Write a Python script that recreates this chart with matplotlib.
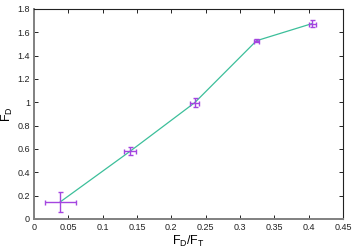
import matplotlib
matplotlib.use("Agg")
import matplotlib.pyplot as plt
from matplotlib.ticker import FixedLocator, FixedFormatter

plt.rcParams['font.family'] = ['Liberation Sans', 'DejaVu Sans']

x = [0.0383, 0.1398, 0.234, 0.324, 0.405]
y = [0.147, 0.58, 0.997, 1.528, 1.675]
xerr = [0.0229, 0.0083, 0.0068, 0.004, 0.005]
yerr = [0.088, 0.033, 0.036, 0.015, 0.028]

xticks = [0, 0.05, 0.1, 0.15, 0.2, 0.25, 0.3, 0.35, 0.4, 0.45]
xticklabels = ["0", "0.05", "0.1", "0.15", "0.2", "0.25", "0.3", "0.35", "0.4", "0.45"]
yticks = [0, 0.2, 0.4, 0.6, 0.8, 1.0, 1.2, 1.4, 1.6, 1.8]
yticklabels = ["0", "0.2", "0.4", "0.6", "0.8", "1", "1.2", "1.4", "1.6", "1.8"]

fig = plt.figure(figsize=(3.56, 2.49), dpi=100)
ax = fig.add_axes([34/356, 1 - 219/249, (343-34)/356, (219-9)/249])

ax.plot(x, y, color='#3cbf9a', lw=0.9, zorder=2)
ax.errorbar(x, y, xerr=xerr, yerr=yerr, fmt='none', ecolor='#a445e0',
            elinewidth=1.0, capsize=1.8, capthick=1.0, zorder=3)

ax.set_xlim(0, 0.45)
ax.set_ylim(0, 1.8)
ax.xaxis.set_major_locator(FixedLocator(xticks))
ax.xaxis.set_major_formatter(FixedFormatter(xticklabels))
ax.yaxis.set_major_locator(FixedLocator(yticks))
ax.yaxis.set_major_formatter(FixedFormatter(yticklabels))
ax.tick_params(direction='in', length=3, width=0.6, labelsize=6.5,
               top=True, right=True, pad=3, colors='black', labelcolor='#222222')

for s in ['left', 'bottom']:
    ax.spines[s].set_color('#808080')
    ax.spines[s].set_linewidth(1.4)
for s in ['top', 'right']:
    ax.spines[s].set_color('#222222')
    ax.spines[s].set_linewidth(0.8)

ax.set_xlabel(r'F$_\mathregular{D}$/F$_\mathregular{T}$', fontsize=9, labelpad=1)
ax.set_ylabel(r'F$_\mathregular{D}$', fontsize=9)
ax.yaxis.set_label_coords(-19/309, 0.5)

fig.savefig('out.png', dpi=100)
